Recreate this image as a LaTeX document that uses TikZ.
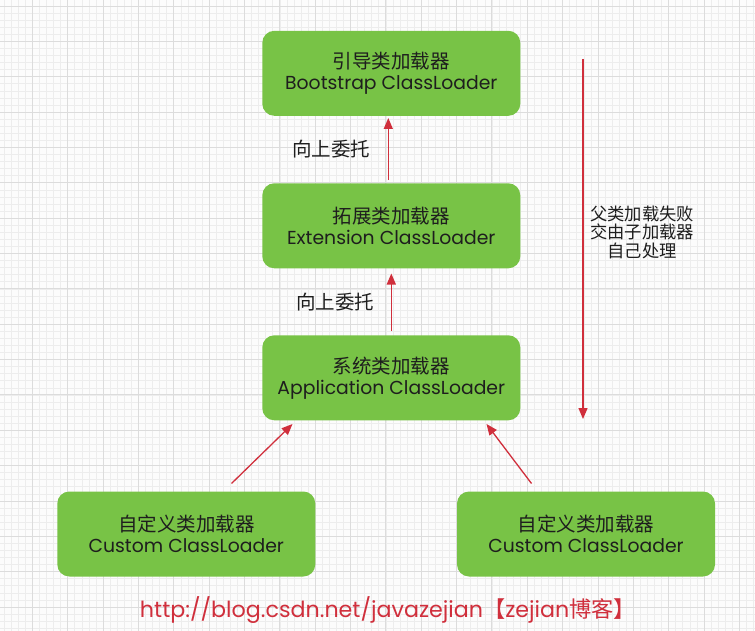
\documentclass[tikz,border=0pt]{standalone}
\usepackage{fontspec}
\setmainfont{Poppins}
\newfontfamily\cjk{Noto Sans CJK SC}
\usetikzlibrary{arrows.meta}
\definecolor{boxgreen}{HTML}{78C346}
\definecolor{arrred}{HTML}{D02F3C}
\definecolor{txt}{HTML}{1E1E1E}
\definecolor{gminor}{HTML}{EDEDED}
\definecolor{gmajor}{HTML}{DCDCDC}
\begin{document}
\begin{tikzpicture}[x=1pt,y=-1pt,
  loader/.style={rectangle, rounded corners=12pt, fill=boxgreen, draw=none,
    minimum width=258pt, minimum height=85pt, inner sep=0pt, align=center,
    text=txt, font=\fontsize{18.8}{21}\selectfont},
  redarrow/.style={draw=arrred, line width=1.3pt, -{Triangle[length=11pt,width=9pt]}},
  lbl/.style={text=txt, font=\cjk\fontsize{19.5}{19}\selectfont, align=center, inner sep=0pt}]
\useasboundingbox (0,0) rectangle (755,631);
\fill[white!98!gray] (0,0) rectangle (755,631);
% grid
\foreach \i in {0,...,107} {
  \draw[gminor, line width=0.5pt] ({-3.05+\i*7.07},0) -- ({-3.05+\i*7.07},631);
}
\foreach \i in {0,...,90} {
  \draw[gminor, line width=0.5pt] (0,{-1.1+\i*7.07}) -- (755,{-1.1+\i*7.07});
}
\foreach \i in {0,...,22} {
  \draw[gmajor, line width=0.8pt] ({-3.05+\i*35.35},0) -- ({-3.05+\i*35.35},631);
}
\foreach \i in {0,...,18} {
  \draw[gmajor, line width=0.8pt] (0,{6.0+\i*35.35}) -- (755,{6.0+\i*35.35});
}
% nodes
\node[loader] (boot) at (391.3,73.3) {{\cjk\fontsize{19.5}{21}\selectfont 引导类加载器}\\Bootstrap ClassLoader};
\node[loader] (ext) at (391.3,225.8) {{\cjk\fontsize{19.5}{21}\selectfont 拓展类加载器}\\Extension ClassLoader};
\node[loader] (app) at (391.3,377.8) {{\cjk\fontsize{19.5}{21}\selectfont 系统类加载器}\\Application ClassLoader};
\node[loader] (c1) at (186.3,534) {{\cjk\fontsize{19.5}{21}\selectfont 自定义类加载器}\\Custom ClassLoader};
\node[loader] (c2) at (586,534) {{\cjk\fontsize{19.5}{21}\selectfont 自定义类加载器}\\Custom ClassLoader};
% arrows
\draw[redarrow] ([xshift=-3pt,yshift=3pt]ext.north) -- ([xshift=-3pt,yshift=-2pt]boot.south);
\draw[redarrow] ([yshift=4pt]app.north) -- ([yshift=-5pt]ext.south);
\coordinate (c1s) at (231.5,483.5);
\coordinate (c2s) at (531.5,483.5);
\draw[redarrow] (c1s) -- (292.5,424);
\draw[redarrow] (c2s) -- (486.5,424);
\coordinate (ls) at (583,59);
\coordinate (le) at (583,419);
\draw[redarrow] (ls) -- (le);
% labels
\node[lbl] (l1) at (331,149) {向上委托};
\node[lbl] (l2) at (335,302.5) {向上委托};
\node[lbl, font=\cjk\fontsize{17.3}{18.5}\selectfont] (l3) at (642,232) {父类加载失败\\交由子加载器\\自己处理};
% footer
\node[text=arrred, inner sep=0pt, font=\fontsize{22.2}{24}\selectfont] (foot) at (388,610) {http://blog.csdn.net/javazejian{\cjk 【}zejian{\cjk 博客】}};
\end{tikzpicture}
\end{document}
